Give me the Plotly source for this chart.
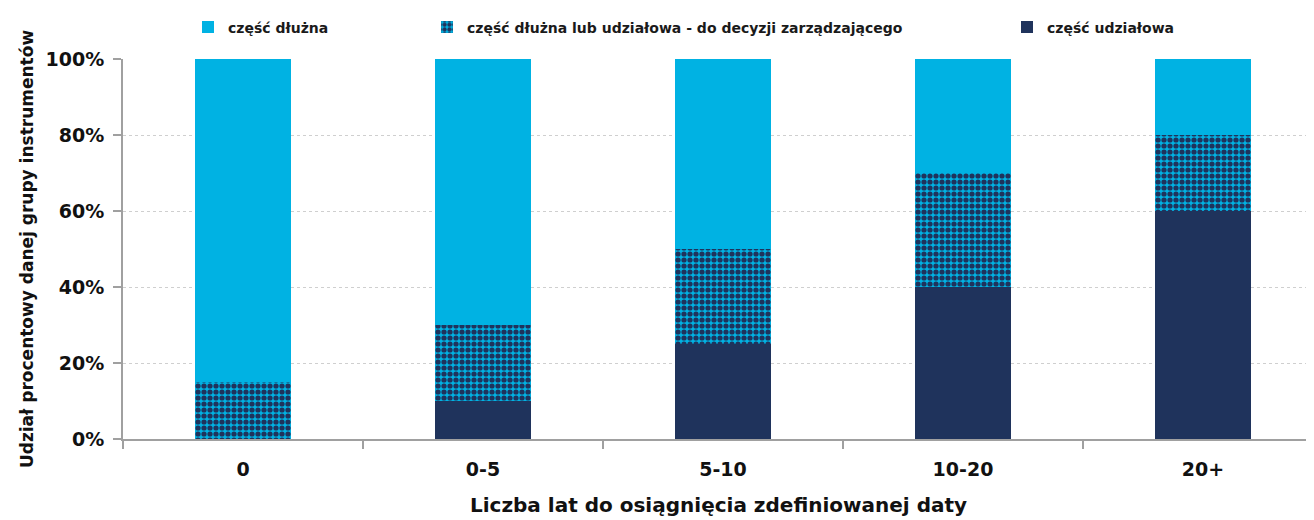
import plotly.graph_objects as go

categories = ["0", "0-5", "5-10", "10-20", "20+"]
equity = [0, 10, 25, 40, 60]
mixed = [15, 20, 25, 30, 20]
debt = [85, 70, 50, 30, 20]
y_tick_vals = [0, 20, 40, 60, 80, 100]
y_tick_text = ["0%", "20%", "40%", "60%", "80%", "100%"]

name_debt = "część dłużna"
name_mixed = "część dłużna lub udziałowa - do decyzji zarządzającego"
name_equity = "część udziałowa"

LIGHT = "#00B2E3"
NAVY = "#1F335C"
FONT = "DejaVu Sans"

# the page body adds an 8px offset; compensate so the plot lands where the reference has it
OFF = 8
W, H = 1314 - OFF, 520 - OFF
PLOT_L = 123 - OFF
PW = W - PLOT_L

fig = go.Figure()
fig.add_trace(go.Bar(x=categories, y=equity, name=name_equity,
                     marker=dict(color=NAVY, line=dict(width=0)),
                     width=0.4, legend="legend3"))
fig.add_trace(go.Bar(x=categories, y=mixed, name=name_mixed,
                     marker=dict(color=LIGHT, line=dict(width=0),
                                 pattern=dict(shape=".", fgcolor=NAVY, bgcolor=LIGHT,
                                              size=6, solidity=0.6, fillmode="replace")),
                     width=0.4, legend="legend2"))
fig.add_trace(go.Bar(x=categories, y=debt, name=name_debt,
                     marker=dict(color=LIGHT, line=dict(width=0)),
                     width=0.4))

def leg(px_left):
    return dict(orientation="h", yanchor="middle", y=1.083, xanchor="left",
                x=(px_left - OFF - PLOT_L) / PW,
                bgcolor="rgba(0,0,0,0)",
                font=dict(family=FONT, size=14, color="#1a1a1a", weight="bold"))

fig.update_layout(
    barmode="stack",
    width=W, height=H,
    margin=dict(l=PLOT_L, r=0, t=59 - OFF, b=81, autoexpand=False),
    paper_bgcolor="white", plot_bgcolor="white",
    font=dict(family=FONT, color="#111"),
    showlegend=True,
    legend=leg(188),
    legend2=leg(427),
    legend3=leg(1007),
    xaxis=dict(
        range=[-0.5, 4.4625], type="category", showgrid=False, automargin=False,
        showline=True, linecolor="#A0A0A0", linewidth=2,
        ticks="outside", tickson="boundaries", ticklen=8, tickwidth=2, tickcolor="#A0A0A0",
        ticklabelstandoff=12,
        tickfont=dict(family=FONT, size=19, color="#111", weight="bold"),
        title=dict(text="Liczba lat do osiągnięcia zdefiniowanej daty", standoff=19,
                   font=dict(family=FONT, size=20, color="#111", weight="bold")),
    ),
    yaxis=dict(
        range=[0, 100], tickmode="array", tickvals=y_tick_vals, ticktext=y_tick_text,
        automargin=False,
        showgrid=True, gridcolor="#CFCFCF", griddash="dot", gridwidth=1,
        showline=True, linecolor="#A0A0A0", linewidth=2,
        ticks="outside", ticklen=8, tickwidth=2, tickcolor="#A0A0A0",
        ticklabelstandoff=5,
        tickfont=dict(family=FONT, size=19, color="#111", weight="bold"),
        title=dict(text="Udział procentowy danej grupy instrumentów", standoff=8,
                   font=dict(family=FONT, size=17, color="#111", weight="bold")),
        zeroline=False,
    ),
)

fig.write_html("out.html")
